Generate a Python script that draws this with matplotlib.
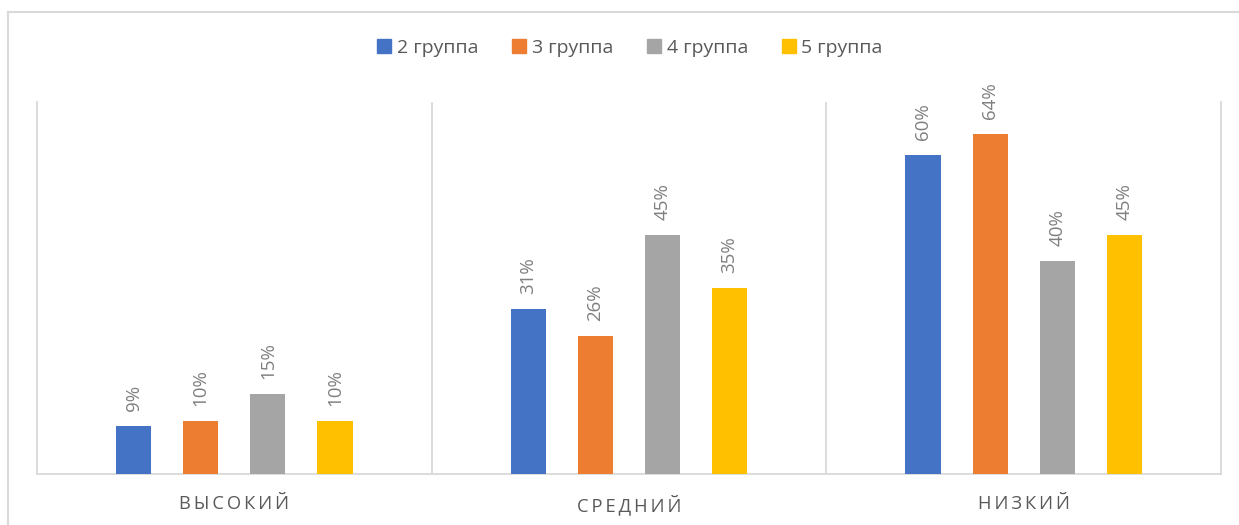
import matplotlib.pyplot as plt
import numpy as np
from matplotlib.lines import Line2D

plt.rcParams["font.family"] = ["Open Sans", "DejaVu Sans"]

CATEGORIES = ["ВЫСОКИЙ", "СРЕДНИЙ", "НИЗКИЙ"]
GROUPS = ["2 группа", "3 группа", "4 группа", "5 группа"]
VALUES = {
    "2 группа": [9, 31, 60],
    "3 группа": [10, 26, 64],
    "4 группа": [15, 45, 40],
    "5 группа": [10, 35, 45],
}

COLORS = ["#4472C4", "#ED7D31", "#A5A5A5", "#FFC000"]
GRID = "#D9D9D9"
TEXT = "#595959"
LABEL = "#7F7F7F"

W, H = 1239, 525
fig = plt.figure(figsize=(W / 100, H / 100), dpi=100, facecolor="white")

# outer chart frame (only left/top visible in the reference)
fig.add_artist(Line2D([8 / W, 8 / W], [0, 1 - 12 / H], color=GRID, lw=1.5))
fig.add_artist(Line2D([8 / W, 1], [1 - 12 / H, 1 - 12 / H], color=GRID, lw=1.5))

ax = fig.add_axes([37 / W, 1 - 474 / H, (1221 - 37) / W, (474 - 102) / H])

x = np.arange(len(CATEGORIES))
step = 0.17
width = 0.089
offsets = (np.arange(len(GROUPS)) - 1.5) * step

for i, (grp, col) in enumerate(zip(GROUPS, COLORS)):
    vals = VALUES[grp]
    bars = ax.bar(x + offsets[i], vals, width=width, color=col, label=grp, zorder=3)
    for b, v in zip(bars, vals):
        ax.annotate(f"{v}%", (b.get_x() + b.get_width() / 2, b.get_height()),
                    textcoords="offset points", xytext=(0, 11), rotation=90,
                    ha="center", va="bottom", fontsize=13.5, color=LABEL)

ax.set_xlim(-0.5, 2.5)
ax.set_ylim(0, 70)
for xv in (0.5, 1.5):
    ax.axvline(xv, color=GRID, lw=1.3, zorder=1)
for side in ("left", "right", "bottom"):
    ax.spines[side].set_color(GRID)
    ax.spines[side].set_linewidth(1.3)
ax.spines["top"].set_visible(False)
ax.set_yticks([])
ax.set_xticks(x)
ax.set_xticklabels(["\u2009".join(c) for c in CATEGORIES], fontsize=13.2, color=TEXT)
ax.tick_params(axis="x", length=0, pad=15)

handles = [plt.Rectangle((0, 0), 1, 1, color=c) for c in COLORS]
fig.legend(handles, GROUPS, loc="center", bbox_to_anchor=(630 / W, 1 - 48 / H), ncol=4,
           frameon=False, fontsize=14, handlelength=0.7, handleheight=0.7,
           handletextpad=0.3, columnspacing=1.75, labelcolor=TEXT)

plt.savefig("out.png", dpi=100, facecolor="white")
